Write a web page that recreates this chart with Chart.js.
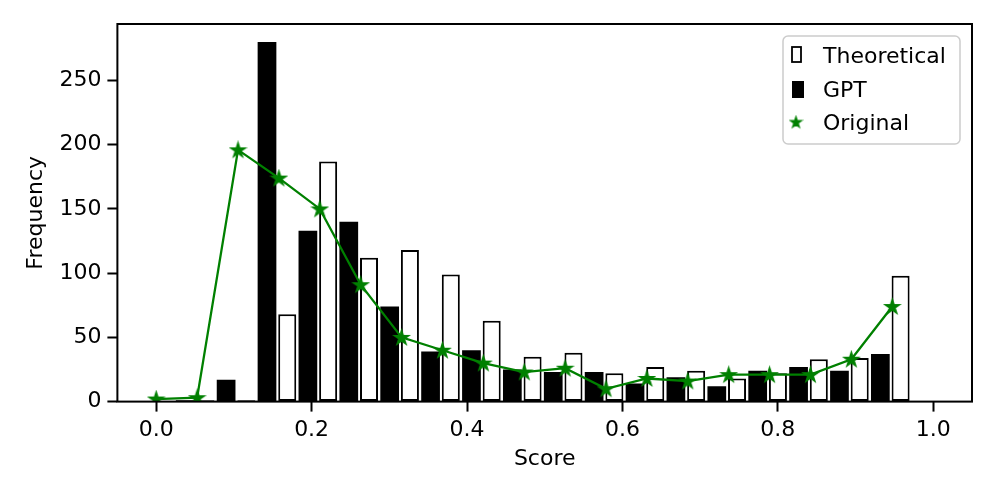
<!DOCTYPE html>
<html>
<head>
<meta charset="utf-8">
<script src="https://cdn.jsdelivr.net/npm/chart.js@4.4.1/dist/chart.umd.min.js"></script>
<style>
  html, body { margin: 0; padding: 0; background: #fff; }
</style>
</head>
<body>
<canvas id="scoreHist" width="997" height="498"></canvas>
<script>
// 19 score bins, bin k sits at k/19
var binCount = 19;
var gptCounts         = [0, 1, 17, 280, 133, 140, 74, 39, 40, 25, 23, 23, 14, 19, 12, 24, 27, 24, 37];
var theoreticalCounts = [0, 1, 1, 68, 187, 112, 118, 99, 63, 35, 38, 22, 27, 24, 18, 22, 33, 34, 98];
var originalCounts    = [2, 3, 196, 174, 150, 91, 50, 40, 30, 23, 26, 10, 18, 16, 21, 21, 21, 33, 74];
var xTickValues = [0, 0.2, 0.4, 0.6, 0.8, 1.0];
var yTickValues = [0, 50, 100, 150, 200, 250];

var green = '#008000';
var barShift = -0.0023;   // bars sit a hair left of the bin mark

function binX(k) { return k / binCount; }
function asPoints(vals, shift) {
  return vals.map(function (v, k) { return { x: binX(k) + shift, y: v }; });
}

function makeStar(size, r, lw) {
  var c = document.createElement('canvas');
  c.width = size; c.height = size;
  var g = c.getContext('2d');
  g.translate(size / 2, size / 2 + 0.5);
  g.beginPath();
  for (var i = 0; i < 10; i++) {
    var rad = i % 2 ? r * 0.382 : r;
    var a = -Math.PI / 2 + i * Math.PI / 5;
    g.lineTo(rad * Math.cos(a), rad * Math.sin(a));
  }
  g.closePath();
  g.fillStyle = green;
  g.fill();
  g.lineWidth = lw;
  g.strokeStyle = green;
  g.lineJoin = 'miter';
  g.stroke();
  return c;
}
var starMark = makeStar(19, 7.0, 1.8);
var starLegend = makeStar(15, 5.6, 1.4);

Chart.defaults.font.family = '"DejaVu Sans", sans-serif';
Chart.defaults.font.size = 22;
Chart.defaults.color = '#000';

var frame = {
  id: 'frame',
  afterDatasetsDraw: function (chart) {
    var a = chart.chartArea, ctx = chart.ctx;
    ctx.save();
    ctx.strokeStyle = '#000';
    ctx.lineWidth = 2;
    ctx.strokeRect(a.left, a.top, a.right - a.left, a.bottom - a.top);
    ctx.restore();
  }
};

var boxLegend = {
  id: 'boxLegend',
  afterDraw: function (chart) {
    var ctx = chart.ctx;
    var ds = chart.data.datasets;
    ctx.save();
    ctx.beginPath();
    ctx.roundRect(783, 36, 177, 108, 5);
    ctx.fillStyle = 'rgba(255,255,255,0.8)';
    ctx.fill();
    ctx.lineWidth = 1.5;
    ctx.strokeStyle = '#cccccc';
    ctx.stroke();

    // Theoretical
    ctx.fillStyle = '#fff';
    ctx.fillRect(792, 47, 9, 15);
    ctx.lineWidth = 1.8;
    ctx.strokeStyle = '#000';
    ctx.strokeRect(792, 47, 9, 15);
    // GPT
    ctx.fillStyle = '#000';
    ctx.fillRect(792, 81, 12, 17);
    // Original
    ctx.drawImage(starLegend, 796 - 7.5, 122 - 7.5);

    ctx.font = '22px "DejaVu Sans"';
    ctx.fillStyle = '#000';
    ctx.textBaseline = 'alphabetic';
    ctx.fillText(ds[1].label, 823, 62.5);
    ctx.fillText(ds[0].label, 823, 96.5);
    ctx.fillText(ds[2].label, 823, 130);
    ctx.restore();
  }
};

new Chart(document.getElementById('scoreHist'), {
  type: 'bar',
  data: {
    datasets: [
      {
        label: 'GPT',
        data: asPoints(gptCounts, barShift),
        backgroundColor: '#000',
        borderWidth: 0,
        categoryPercentage: 0.99,
        barPercentage: 0.925,
        order: 1
      },
      {
        label: 'Theoretical',
        data: asPoints(theoreticalCounts, barShift),
        backgroundColor: '#fff',
        borderColor: '#000',
        borderWidth: 2,
        borderSkipped: false,
        categoryPercentage: 0.99,
        barPercentage: 0.89,
        order: 1
      },
      {
        type: 'line',
        label: 'Original',
        data: asPoints(originalCounts, 0),
        borderColor: green,
        backgroundColor: green,
        borderWidth: 2.3,
        pointStyle: starMark,
        pointRadius: 7,
        tension: 0,
        order: 0
      }
    ]
  },
  options: {
    responsive: false,
    animation: false,
    events: [],
    layout: { padding: { left: 20, right: 25, top: 24, bottom: 24 } },
    plugins: {
      legend: { display: false },
      tooltip: { enabled: false }
    },
    scales: {
      x: {
        type: 'linear',
        min: -0.05,
        max: 1.05,
        offset: false,
        afterBuildTicks: function (axis) {
          axis.ticks = xTickValues.map(function (v) { return { value: v }; });
        },
        ticks: {
          padding: 5,
          maxRotation: 0,
          callback: function (v) { return Number(v).toFixed(1); }
        },
        grid: {
          offset: false,
          drawOnChartArea: false,
          drawTicks: true,
          tickLength: 10,
          tickColor: '#000',
          tickWidth: 2
        },
        border: { display: false },
        title: {
          display: true, text: 'Score',
          font: { lineHeight: 1.0 },
          padding: { top: 0, bottom: 4 }
        }
      },
      y: {
        min: 0,
        max: 294,
        afterBuildTicks: function (axis) {
          axis.ticks = yTickValues.map(function (v) { return { value: v }; });
        },
        ticks: { padding: 6 },
        grid: {
          drawOnChartArea: false,
          drawTicks: true,
          tickLength: 10,
          tickColor: '#000',
          tickWidth: 2
        },
        border: { display: false },
        title: { display: true, text: 'Frequency', padding: { top: 3, bottom: 4 } }
      }
    }
  },
  plugins: [frame, boxLegend]
});
</script>
</body>
</html>
